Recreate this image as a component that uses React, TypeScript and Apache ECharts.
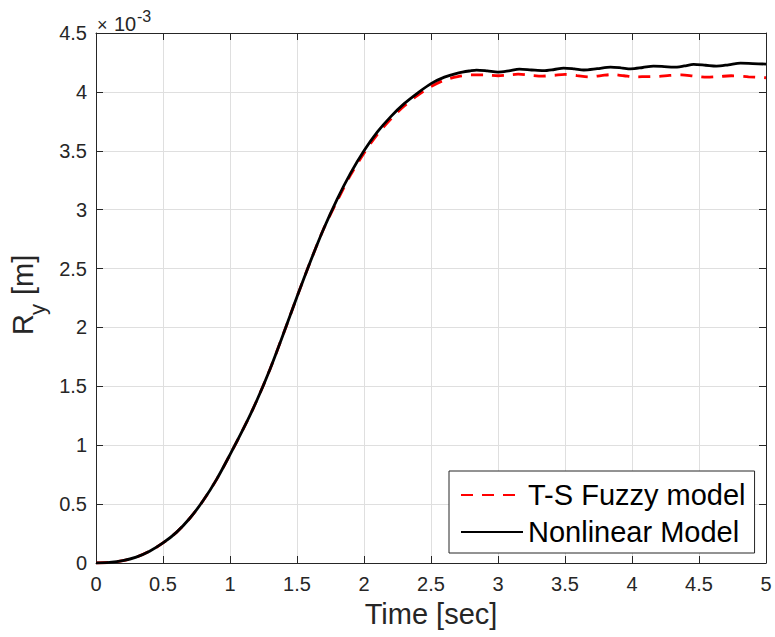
import React, { useEffect, useRef } from "react";
import * as echarts from "echarts";

// Time (s) and response R_y (in units of 1e-3 m)
const riseTime = [0, 0.1, 0.2, 0.3, 0.4, 0.5, 0.6, 0.7, 0.8, 0.9, 1.0, 1.1, 1.2, 1.3, 1.4, 1.5, 1.6, 1.7];
const riseValues = [0, 0.005, 0.02, 0.05, 0.1, 0.17, 0.26, 0.38, 0.53, 0.71, 0.92, 1.14, 1.38, 1.65, 1.95, 2.26, 2.56, 2.84];

const fuzzyTailTime = [1.8, 1.9, 2.0, 2.1, 2.2, 2.3, 2.4, 2.5, 2.6, 2.7, 2.8, 2.9, 3.0, 3.08, 3.15, 3.24, 3.33, 3.42, 3.5, 3.59, 3.68, 3.77, 3.85, 3.94, 4.03, 4.12, 4.2, 4.28, 4.37, 4.46, 4.56, 4.65, 4.74, 4.87, 5.0];
const fuzzyTail = [3.075, 3.295, 3.48, 3.64, 3.77, 3.88, 3.97, 4.045, 4.1, 4.13, 4.145, 4.145, 4.137, 4.143, 4.15, 4.142, 4.134, 4.141, 4.148, 4.138, 4.128, 4.138, 4.147, 4.137, 4.128, 4.13, 4.132, 4.14, 4.145, 4.135, 4.125, 4.13, 4.137, 4.128, 4.12];

const nonlinearTailTime = [1.8, 1.9, 2.0, 2.1, 2.2, 2.3, 2.4, 2.5, 2.6, 2.7, 2.8, 2.84, 2.92, 3.0, 3.08, 3.16, 3.25, 3.34, 3.42, 3.49, 3.57, 3.64, 3.74, 3.84, 3.92, 3.99, 4.08, 4.16, 4.24, 4.31, 4.39, 4.46, 4.55, 4.63, 4.72, 4.81, 4.9, 5.0];
const nonlinearTail = [3.09, 3.31, 3.5, 3.66, 3.79, 3.9, 3.99, 4.07, 4.125, 4.16, 4.18, 4.185, 4.178, 4.168, 4.178, 4.193, 4.186, 4.18, 4.19, 4.202, 4.195, 4.186, 4.197, 4.21, 4.204, 4.196, 4.207, 4.219, 4.215, 4.21, 4.22, 4.233, 4.226, 4.219, 4.23, 4.244, 4.24, 4.236];

const seriesNames = ["T-S Fuzzy model", "Nonlinear Model"];
const xTicks = { min: 0, max: 5, interval: 0.5 };
const yTicks = { min: 0, max: 4.5, interval: 0.5 };

const FONT = "Liberation Sans, Arial, Helvetica, sans-serif";
const AXIS = "#262626";
const GRID = "#dfdfdf";

function pairs(t: number[], v: number[]) {
  return t.map((x, i) => [x, v[i]]);
}

export default function App() {
  const ref = useRef<HTMLDivElement>(null);
  useEffect(() => {
    if (!ref.current) return;
    const chart = echarts.init(ref.current, undefined, { renderer: "svg" });
    const fuzzyData = pairs(riseTime, riseValues).concat(pairs(fuzzyTailTime, fuzzyTail));
    const nonlinearData = pairs(riseTime, riseValues).concat(pairs(nonlinearTailTime, nonlinearTail));
    const axisCommon = {
      type: "value",
      axisLine: { show: true, onZero: false, lineStyle: { color: AXIS, width: 1 } },
      axisTick: { show: true, inside: true, length: 7, lineStyle: { color: AXIS, width: 1 } },
    };
    chart.setOption({
      animation: false,
      backgroundColor: "#ffffff",
      textStyle: { fontFamily: FONT },
      grid: { left: 96, right: 9, top: 33, bottom: 74, containLabel: false },
      xAxis: [
        {
          ...axisCommon,
          ...xTicks,
          position: "bottom",
          axisLabel: { fontSize: 20, color: AXIS, margin: 11, fontFamily: FONT },
          splitLine: { show: true, lineStyle: { color: GRID, width: 1 } },
          name: "Time [sec]",
          nameLocation: "middle",
          nameGap: 36,
          nameTextStyle: { fontSize: 29, color: AXIS, fontFamily: FONT },
        },
        {
          ...axisCommon,
          ...xTicks,
          position: "top",
          axisLabel: { show: false },
          splitLine: { show: false },
        },
      ],
      yAxis: [
        {
          ...axisCommon,
          ...yTicks,
          position: "left",
          axisLabel: { fontSize: 20, color: AXIS, margin: 9, fontFamily: FONT },
          splitLine: { show: true, lineStyle: { color: GRID, width: 1 } },
        },
        {
          ...axisCommon,
          ...yTicks,
          position: "right",
          axisLabel: { show: false },
          splitLine: { show: false },
        },
      ],
      legend: {
        data: seriesNames,
        orient: "vertical",
        left: 449,
        top: 471,
        itemWidth: 62,
        itemHeight: 14,
        itemGap: 7,
        padding: [9, 9, 6, 11],
        borderColor: AXIS,
        borderWidth: 1,
        backgroundColor: "#ffffff",
        itemStyle: { color: "rgba(0,0,0,0)", borderWidth: 0, opacity: 0 },
        textStyle: { fontSize: 29, color: "#000000", fontFamily: FONT, lineHeight: 30 },
      },
      series: [
        {
          name: seriesNames[0],
          type: "line",
          xAxisIndex: 0,
          yAxisIndex: 0,
          data: fuzzyData,
          smooth: 0.3,
          symbol: "none",
          lineStyle: { color: "#ff0000", width: 2.8, type: [12, 9] },
          itemStyle: { color: "#ff0000" },
        },
        {
          name: seriesNames[1],
          type: "line",
          xAxisIndex: 0,
          yAxisIndex: 0,
          data: nonlinearData,
          smooth: 0.3,
          symbol: "none",
          lineStyle: { color: "#000000", width: 2.8, type: "solid" },
          itemStyle: { color: "#000000" },
        },
      ],
      graphic: [
        {
          type: "text",
          left: 97,
          top: 16,
          style: { text: "×", fontSize: 18, fill: AXIS, fontFamily: FONT },
        },
        {
          type: "text",
          left: 114,
          top: 14,
          style: { text: "10", fontSize: 20, fill: AXIS, fontFamily: FONT },
        },
        {
          type: "text",
          left: 137,
          top: 8,
          style: { text: "-3", fontSize: 16, fill: AXIS, fontFamily: FONT },
        },
        {
          type: "group",
          x: 23,
          y: 335,
          rotation: Math.PI / 2,
          children: [
            { type: "text", x: 0, y: 0, style: { text: "R", fontSize: 29, fill: AXIS, fontFamily: FONT, align: "left", verticalAlign: "middle" } },
            { type: "text", x: 20, y: 14, style: { text: "y", fontSize: 22, fill: AXIS, fontFamily: FONT, align: "left", verticalAlign: "middle" } },
            { type: "text", x: 40, y: 0, style: { text: "[m]", fontSize: 29, fill: AXIS, fontFamily: FONT, align: "left", verticalAlign: "middle" } },
          ],
        },
      ],
    });
    return () => chart.dispose();
  }, []);
  return <div ref={ref} style={{ position: "fixed", left: 0, top: 0, width: 775, height: 637 }} />;
}
